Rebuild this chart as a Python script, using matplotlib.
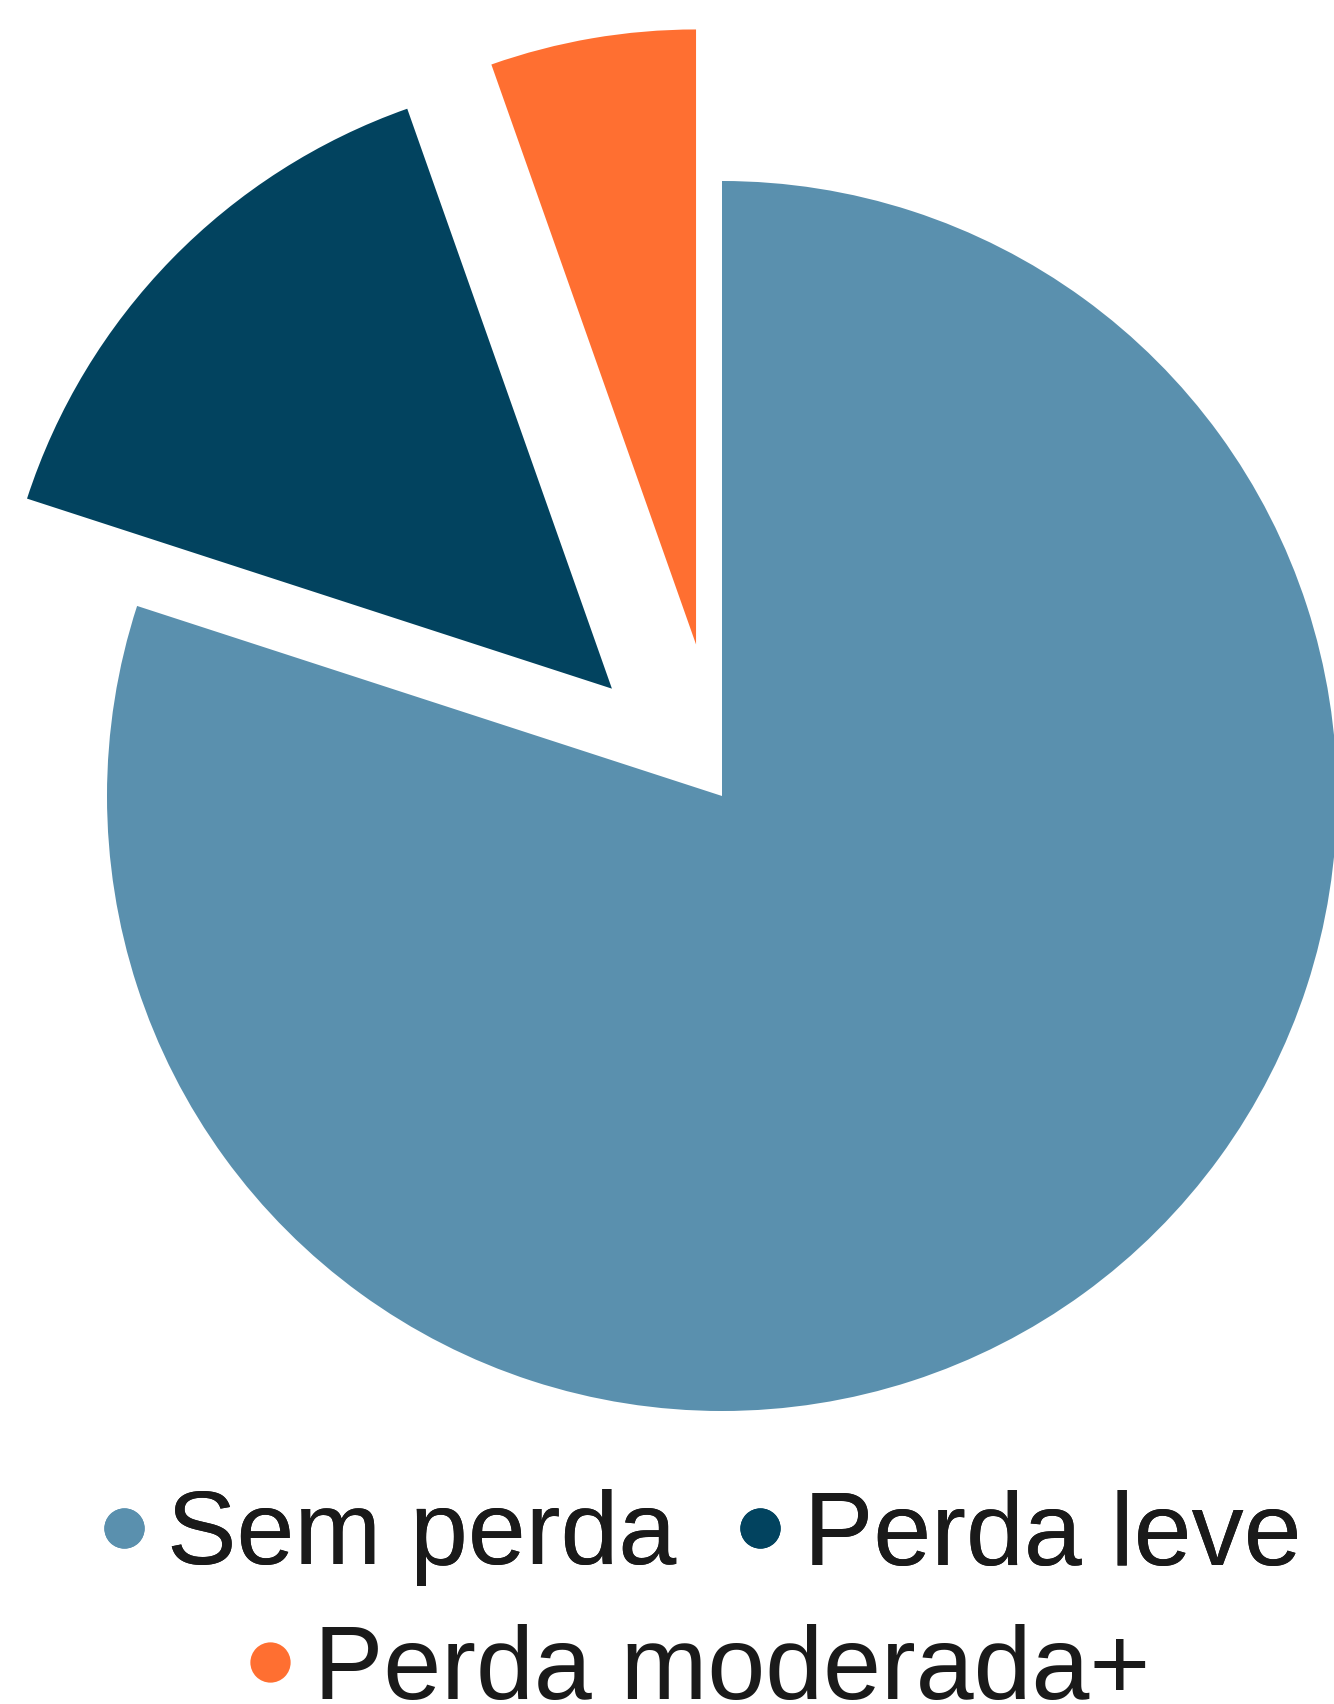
import matplotlib
matplotlib.use("Agg")
import matplotlib.pyplot as plt
from matplotlib.lines import Line2D

plt.rcParams['font.family'] = ['Liberation Sans', 'DejaVu Sans']

labels = ["Sem perda", "Perda leve", "Perda moderada+"]
values = [80.0, 14.6, 5.4]
colors = ["#5A90AE", "#02435F", "#FF6F31"]
explode = [0, 0.25, 0.25]

fig = plt.figure(figsize=(13.34, 17.04), dpi=100)
ax = fig.add_axes([0, 0, 1, 1])
ax.pie(values, colors=colors, explode=explode, startangle=90,
       counterclock=False, radius=1, wedgeprops=dict(linewidth=0))
# pixel scale: 615 px per unit, pie centre at (722, 796) px from top-left
ax.set_xlim(-722 / 615, (1334 - 722) / 615)
ax.set_ylim(-(1704 - 796) / 615, 796 / 615)
ax.set_aspect('auto')
ax.axis('off')

handles = [Line2D([], [], marker='o', linestyle='none', markersize=29,
                  markerfacecolor=c, markeredgewidth=0) for c in colors]

leg_kw = dict(frameon=False, fontsize=75, handlelength=0.4,
              handletextpad=0.22, columnspacing=0.6, borderpad=0,
              borderaxespad=0, labelcolor="#1a1a1a", loc='center')
leg1 = fig.legend(handles[:2], labels[:2], ncol=2,
                  bbox_to_anchor=(702 / 1334, 1 - 1538 / 1704), **leg_kw)
fig.add_artist(leg1)
leg2 = fig.legend(handles[2:], labels[2:], ncol=1,
                  bbox_to_anchor=(700 / 1334, 1 - 1672 / 1704), **leg_kw)

fig.savefig("out.png", dpi=100, facecolor="white")
